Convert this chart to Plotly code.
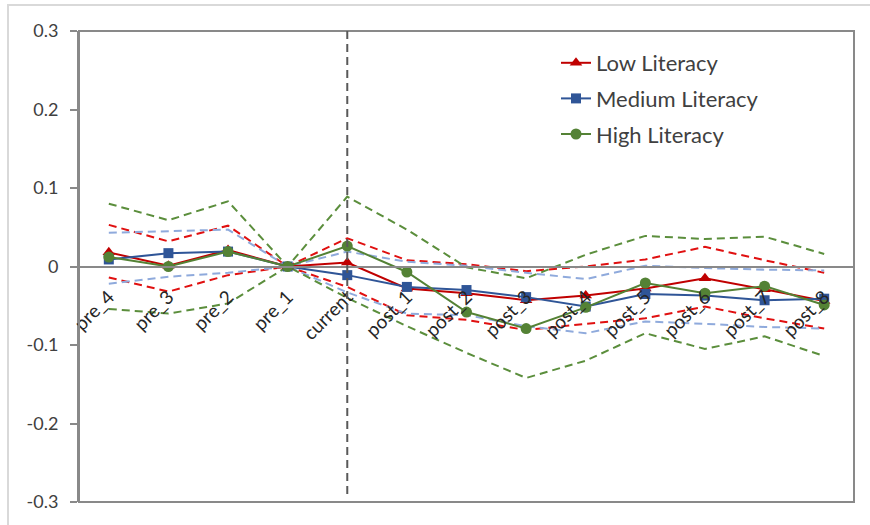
import plotly.graph_objects as go

# Event-window categories
categories = ["pre_4", "pre_3", "pre_2", "pre_1", "current",
              "post_1", "post_2", "post_3", "post_4",
              "post_5", "post_6", "post_7", "post_8"]

# Point estimates by literacy group
low_literacy = [0.018, 0.001, 0.021, 0.0, 0.005, -0.028, -0.034, -0.043,
                -0.037, -0.028, -0.015, -0.029, -0.044]
medium_literacy = [0.009, 0.017, 0.019, 0.0, -0.011, -0.026, -0.030, -0.039,
                   -0.051, -0.035, -0.037, -0.043, -0.041]
high_literacy = [0.012, 0.0, 0.019, 0.0, 0.026, -0.007, -0.058, -0.079,
                 -0.052, -0.021, -0.034, -0.025, -0.049]

# Confidence bounds by literacy group
low_upper = [0.053, 0.032, 0.052, 0.0, 0.036, 0.008, 0.003, -0.006,
             0.0, 0.009, 0.025, 0.008, -0.008]
low_lower = [-0.014, -0.032, -0.011, 0.0, -0.026, -0.062, -0.068, -0.081,
             -0.073, -0.066, -0.051, -0.066, -0.079]
medium_upper = [0.043, 0.045, 0.047, 0.0, 0.019, 0.006, 0.001, -0.008,
                -0.016, 0.001, -0.002, -0.004, -0.005]
medium_lower = [-0.022, -0.013, -0.008, 0.0, -0.033, -0.060, -0.062, -0.076,
                -0.085, -0.070, -0.073, -0.077, -0.079]
high_upper = [0.080, 0.059, 0.083, 0.0, 0.089, 0.047, -0.001, -0.015,
              0.015, 0.039, 0.035, 0.038, 0.016]
high_lower = [-0.054, -0.060, -0.047, 0.0, -0.040, -0.076, -0.110, -0.142,
              -0.120, -0.085, -0.105, -0.089, -0.114]

y_tick_values = [0.3, 0.2, 0.1, 0.0, -0.1, -0.2, -0.3]
y_tick_labels = ["0.3", "0.2", "0.1", "0", "-0.1", "-0.2", "-0.3"]
event_category = "current"

FONT = "Lato, 'Open Sans', sans-serif"
TEXT = "#404040"
AXIS = "#898989"

W, H = 870, 525
ML, MR, MT, MB = 79, 16, 31, 23

fig = go.Figure()

bands = [
    (low_upper, low_lower, "#E01010", "low"),
    (medium_upper, medium_lower, "#8FAADC", "medium"),
    (high_upper, high_lower, "#5B8E3C", "high"),
]
for upper, lower, color, group in bands:
    for bound in (upper, lower):
        fig.add_trace(go.Scatter(
            x=categories, y=bound, mode="lines", legendgroup=group,
            showlegend=False, hoverinfo="skip",
            line=dict(color=color, width=2, dash="8px,5px"),
        ))

series = [
    ("Low Literacy", low_literacy, "#C00000", "triangle-up", 11, "low"),
    ("Medium Literacy", medium_literacy, "#2F5597", "square", 10, "medium"),
    ("High Literacy", high_literacy, "#548235", "circle", 11, "high"),
]
for name, values, color, symbol, size, group in series:
    fig.add_trace(go.Scatter(
        x=categories, y=values, mode="lines+markers", name=name,
        legendgroup=group,
        line=dict(color=color, width=2),
        marker=dict(symbol=symbol, size=size, color=color),
    ))

pw = W - ML - MR
ph = H - MT - MB
event_idx = categories.index(event_category)

shapes = [
    # plot-area frame
    dict(type="rect", xref="paper", yref="paper", x0=0, x1=1, y0=0, y1=1,
         line=dict(color=AXIS, width=2), layer="above"),
    # chart-area frame
    dict(type="rect", xref="paper", yref="paper",
         x0=(8 - ML) / pw, x1=(W + 10 - ML) / pw,
         y0=-(MB + 10) / ph, y1=1 + (MT - 5) / ph,
         line=dict(color="#D9D9D9", width=2), layer="below"),
    # event marker line
    dict(type="line", xref="x", yref="y", x0=event_idx, x1=event_idx,
         y0=y_tick_values[0], y1=-0.29,
         line=dict(color="#595959", width=2, dash="8px,5px")),
]

fig.update_layout(
    width=W, height=H,
    margin=dict(l=ML, r=MR, t=MT, b=MB),
    paper_bgcolor="white", plot_bgcolor="white",
    font=dict(family=FONT, color=TEXT, size=17),
    showlegend=True,
    legend=dict(
        x=(556 - ML) / pw, y=1 - (42 - MT) / ph, xanchor="left", yanchor="top",
        font=dict(family=FONT, size=22, color=TEXT),
        bgcolor="rgba(0,0,0,0)", tracegroupgap=4, traceorder="grouped",
    ),
    xaxis=dict(
        type="category", categoryorder="array", categoryarray=categories,
        range=[-0.5, len(categories) - 0.5],
        anchor="free", position=0.5, layer="above traces",
        showline=True, linecolor=AXIS, linewidth=2,
        showgrid=False, zeroline=False, ticks="",
        tickangle=-45, ticklabelstandoff=11,
        tickfont=dict(family=FONT, size=19, color="#262626"),
    ),
    yaxis=dict(
        range=[-0.3, 0.3], tickvals=y_tick_values, ticktext=y_tick_labels,
        showline=True, linecolor=AXIS, linewidth=2,
        ticks="outside", ticklen=7, tickcolor=AXIS, tickwidth=2,
        showgrid=False, zeroline=False, ticklabelstandoff=8,
        tickfont=dict(family=FONT, size=18, color=TEXT),
    ),
    shapes=shapes,
)

fig.write_html("out.html")
